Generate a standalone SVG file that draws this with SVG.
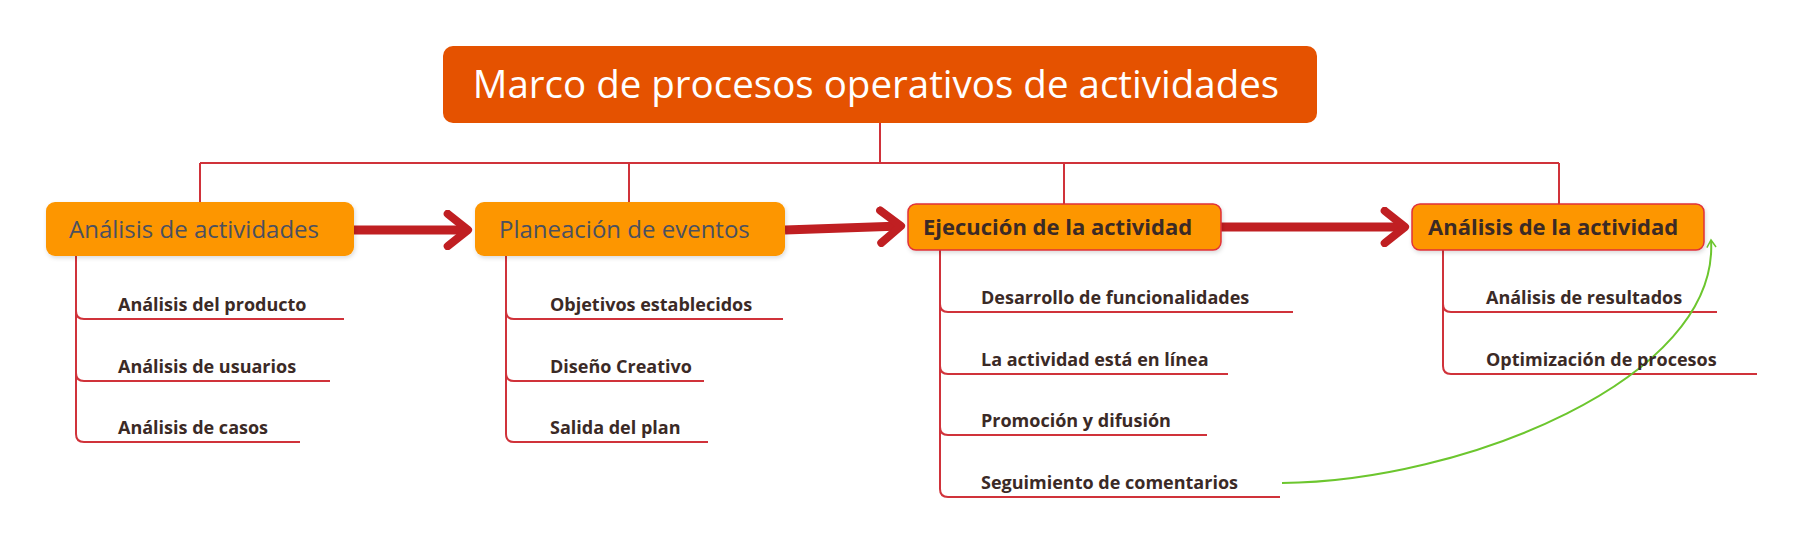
<svg xmlns="http://www.w3.org/2000/svg" width="1803" height="558" viewBox="0 0 1803 558">
<style>
.t{font-family:"Open Sans","Noto Sans",sans-serif}
.l1{font-size:24px;fill:#4a5060}
.l1b{font-size:22px;font-weight:bold;fill:#3b2a26}
.ch{font-size:18px;font-weight:bold;fill:#3b2a26}
.ln{fill:none;stroke:#d0323a;stroke-width:2}
.big{fill:none;stroke:#c01f22;stroke-width:9}
</style>
<defs>
<marker id="chev" viewBox="0 0 20 20" refX="16" refY="10" markerWidth="4.5" markerHeight="4.5" markerUnits="strokeWidth" orient="auto">
<path d="M6 2 L16 10 L6 18" fill="none" stroke="#c01f22" stroke-width="4" stroke-linecap="round" stroke-linejoin="round"/>
</marker>
<marker id="gh" viewBox="0 0 12 12" refX="10" refY="6" markerWidth="11" markerHeight="11" markerUnits="userSpaceOnUse" orient="auto">
<path d="M2 1 L10 6 L2 11" fill="none" stroke="#6cc62e" stroke-width="1.6"/>
</marker>
<filter id="sh" x="-5%" y="-10%" width="110%" height="130%"><feDropShadow dx="1" dy="2" stdDeviation="2" flood-color="#000" flood-opacity="0.15"/></filter>
</defs>
<rect width="1803" height="558" fill="#fff"/>
<g id="connectors">
<path class="ln" d="M880 123 V163 M200 163 H1559 M200 163 V202 M629 163 V202 M1064 163 V204 M1559 163 V204"/>
<path class="big" marker-end="url(#chev)" d="M354 230 H468"/>
<path class="big" marker-end="url(#chev)" d="M785 230 L901 226"/>
<path class="big" marker-end="url(#chev)" d="M1221 227 H1405"/>
<path class="ln" d="M76 256 V311 Q76 319 84 319 H344 M76 311 V373 Q76 381 84 381 H330 M76 373 V434 Q76 442 84 442 H300"/>
<path class="ln" d="M506 256 V311 Q506 319 514 319 H783 M506 311 V373 Q506 381 514 381 H704 M506 373 V434 Q506 442 514 442 H708"/>
<path class="ln" d="M940 250 V304 Q940 312 948 312 H1293 M940 304 V366 Q940 374 948 374 H1228 M940 366 V427 Q940 435 948 435 H1207 M940 427 V489 Q940 497 948 497 H1280"/>
<path class="ln" d="M1443 250 V304 Q1443 312 1451 312 H1717 M1443 304 V366 Q1443 374 1451 374 H1757"/>
<path d="M1282 483 C1460 482 1720 380 1711 240" fill="none" stroke="#6cc62e" stroke-width="2" marker-end="url(#gh)"/>
</g>
<g id="root"><rect x="443" y="46" width="874" height="77" rx="10" fill="#e55200"/>
<text class="t" x="876" y="98" font-size="38.5" fill="#fff" text-anchor="middle">Marco de procesos operativos de actividades</text></g>
<g id="n1"><rect x="46" y="202" width="308" height="54" rx="9" fill="#fd9600" filter="url(#sh)"/><text class="t l1" x="69" y="238">Análisis de actividades</text></g>
<g id="n2"><rect x="475" y="202" width="310" height="54" rx="9" fill="#fd9600" filter="url(#sh)"/><text class="t l1" x="499" y="238">Planeación de eventos</text></g>
<g id="n3"><rect x="908" y="204" width="313" height="46" rx="8" fill="#fd9600" stroke="#e0303a" stroke-width="1.5" filter="url(#sh)"/><text class="t l1b" x="923" y="235">Ejecución de la actividad</text></g>
<g id="n4"><rect x="1412" y="204" width="292" height="46" rx="8" fill="#fd9600" stroke="#e0303a" stroke-width="1.5" filter="url(#sh)"/><text class="t l1b" x="1428" y="235">Análisis de la actividad</text></g>
<g id="c1"><text class="t ch" x="118" y="311">Análisis del producto</text></g>
<g id="c2"><text class="t ch" x="118" y="373">Análisis de usuarios</text></g>
<g id="c3"><text class="t ch" x="118" y="434">Análisis de casos</text></g>
<g id="c4"><text class="t ch" x="550" y="311">Objetivos establecidos</text></g>
<g id="c5"><text class="t ch" x="550" y="373">Diseño Creativo</text></g>
<g id="c6"><text class="t ch" x="550" y="434">Salida del plan</text></g>
<g id="c7"><text class="t ch" x="981" y="304">Desarrollo de funcionalidades</text></g>
<g id="c8"><text class="t ch" x="981" y="366">La actividad está en línea</text></g>
<g id="c9"><text class="t ch" x="981" y="427">Promoción y difusión</text></g>
<g id="c10"><text class="t ch" x="981" y="489">Seguimiento de comentarios</text></g>
<g id="c11"><text class="t ch" x="1486" y="304">Análisis de resultados</text></g>
<g id="c12"><text class="t ch" x="1486" y="366">Optimización de procesos</text></g>
</svg>
